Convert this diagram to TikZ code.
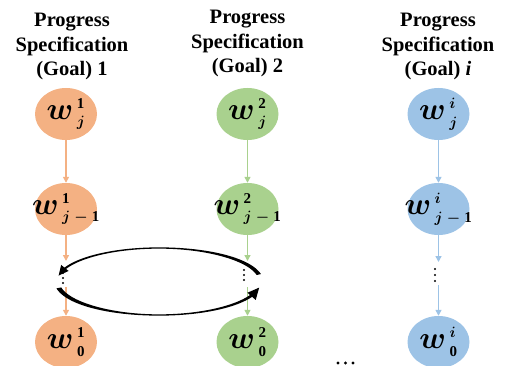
\RequirePackage{fix-cm}
\documentclass[tikz,border=0pt]{standalone}
\usepackage{amsmath}
\usepackage{bm}
\usepackage{fontspec}
\setmainfont{Liberation Serif}
\usetikzlibrary{arrows.meta,shapes.geometric}
\DeclareMathSizes{31}{31}{20}{15}
\definecolor{corange}{HTML}{F4B183}
\definecolor{cgreen}{HTML}{A9D18E}
\definecolor{cblue}{HTML}{9DC3E6}
\newcommand\wlab[2]{{\fontsize{31}{31}\selectfont${\boldsymbol{w}\mkern2mu}^{\scriptscriptstyle #1}_{\scriptscriptstyle #2}$}}
\newcommand\jm{\boldsymbol{j}\;\boldsymbol{-}\;\mathbf{1}}
\begin{document}
\begin{tikzpicture}[x=1pt,y=-1pt,
  goal/.style={ellipse, draw=none, fill=#1, minimum width=62pt, minimum height=52pt, inner sep=0pt},
  conn/.style={draw=#1, line width=1.4pt, -{Triangle[length=6pt,width=6pt]}},
  ttl/.style={font=\fontsize{20.5}{24.5}\selectfont\bfseries, align=center, inner sep=0pt, anchor=north},
  lab/.style={label={[inner sep=0pt]center:{#1}}},
  vdot/.style={fill=black}]
\useasboundingbox (0,0) rectangle (506,366);
% titles
\node[ttl] (t1) at (72,13) {Progress\\Specification\\(Goal) 1};
\node[ttl] (t2) at (247.5,10) {Progress\\Specification\\(Goal) 2};
\node[ttl] (t3) at (438,13) {Progress\\Specification\\(Goal) \textit{i}};
% column 1
\node[goal=corange, lab={\wlab{\mathbf{1}}{\boldsymbol{j}}}] (a1) at (66,114) {};
\node[goal=corange, lab={\wlab{\mathbf{1}}{\jm}}] (a2) at (66,209) {};
\node[goal=corange, lab={\wlab{\mathbf{1}}{\mathbf{0}}}] (a4) at (66,342) {};
\coordinate (ad) at (66,261);
\coordinate (ae) at (66,287);
\draw[conn=corange] (a1) -- (a2);
\draw[conn=corange] (a2) -- (ad);
\draw[conn=corange] (ae) -- (a4);
% column 2
\node[goal=cgreen, lab={\wlab{\mathbf{2}}{\boldsymbol{j}}}] (b1) at (247.5,114) {};
\node[goal=cgreen, lab={\wlab{\mathbf{2}}{\jm}}] (b2) at (247.5,209) {};
\node[goal=cgreen, lab={\wlab{\mathbf{2}}{\mathbf{0}}}] (b4) at (247.5,342) {};
\coordinate (bd) at (247.5,261);
\coordinate (be) at (247.5,287);
\draw[conn=cgreen] (b1) -- (b2);
\draw[conn=cgreen] (b2) -- (bd);
\draw[conn=cgreen] (be) -- (b4);
% column 3
\node[goal=cblue, lab={\wlab{\boldsymbol{i}}{\boldsymbol{j}}}] (c1) at (438.5,114) {};
\node[goal=cblue, lab={\wlab{\boldsymbol{i}}{\jm}}] (c2) at (438.5,209) {};
\node[goal=cblue, lab={\wlab{\boldsymbol{i}}{\mathbf{0}}}] (c4) at (438.5,342) {};
\coordinate (cd) at (438.5,262);
\coordinate (ce) at (438.5,285);
\draw[conn=cblue] (c1) -- (c2);
\draw[conn=cblue] (c2) -- (cd);
\draw[conn=cblue] (ce) -- (c4);
% vertical dots
\foreach \y in {273,278,283} \fill[vdot] (63,\y) circle (1.1);
\foreach \y in {270,275,280} \fill[vdot] (244,\y) circle (1.1);
\foreach \y in {269,275,281} \fill[vdot] (435,\y) circle (1.1);
% bottom dots
\foreach \x in {338,345.5,353} \fill[vdot] (\x,363) circle (1.6);
% circular arrows (tapered bands)
\fill[black] plot[domain=12:164, samples=80, variable=\t]
  ({159+(102+0.5*(1.3+(cos(\t)>0 ? 3.2 : 1.2)*(cos(\t))^2))*cos(\t)},
   {281.5-(33.5+0.5*(1.3+(cos(\t)>0 ? 3.2 : 1.2)*(cos(\t))^2))*sin(\t)})
  -- plot[domain=164:12, samples=80, variable=\t]
  ({159+(102-0.5*(1.3+(cos(\t)>0 ? 3.2 : 1.2)*(cos(\t))^2))*cos(\t)},
   {281.5-(33.5-0.5*(1.3+(cos(\t)>0 ? 3.2 : 1.2)*(cos(\t))^2))*sin(\t)}) -- cycle;
\draw[line width=2pt, -{Triangle[length=10pt,width=9pt]}]
  ({159+102*cos(160)},{281.5-33.5*sin(160)}) -- ({159+102*cos(170)},{281.5-33.5*sin(170)});
\fill[black] plot[domain=191:342, samples=80, variable=\t]
  ({159+(102+0.5*(1.3+(cos(\t)<0 ? 3.7 : 2.2)*(cos(\t))^2))*cos(\t)},
   {281.5-(33.5+0.5*(1.3+(cos(\t)<0 ? 3.7 : 2.2)*(cos(\t))^2))*sin(\t)})
  -- plot[domain=342:191, samples=80, variable=\t]
  ({159+(102-0.5*(1.3+(cos(\t)<0 ? 3.7 : 2.2)*(cos(\t))^2))*cos(\t)},
   {281.5-(33.5-0.5*(1.3+(cos(\t)<0 ? 3.7 : 2.2)*(cos(\t))^2))*sin(\t)}) -- cycle;
\draw[line width=3pt, -{Triangle[length=12pt,width=10pt]}]
  ({159+102*cos(338)},{281.5-33.5*sin(338)}) -- ({159+102*cos(350)},{281.5-33.5*sin(350)});
\end{tikzpicture}
\end{document}
